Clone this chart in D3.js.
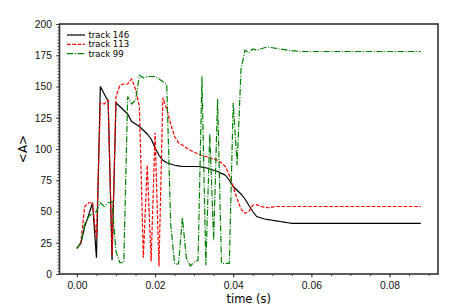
<!DOCTYPE html>
<html>
<head>
<meta charset="utf-8">
<script src="https://cdn.jsdelivr.net/npm/d3@7"></script>
<style>
  body { margin: 0; background: #fff; }
  svg { font-family: "DejaVu Sans", sans-serif; }
</style>
</head>
<body>
<svg id="chart" width="476" height="308"></svg>
<script>

// ===========================//
// DATA
// ===========================//

// sample times, in ms
var timeMs = [0,1,2,3,4,5,6,7,8,9,10,11,12,13,14,15,16,17,18,19,20,21,22,23,24,25,26,27,28,29,
  30,31,32,33,34,35,36,37,38,39,40,41,42,43,44,45,46,47,48,49,50,51,52,53,54,55,56,57,58,59,
  60,61,62,63,64,65,66,67,68,69,70,71,72,73,74,75,76,77,78,79,80,81,82,83,84,85,86,87,88]

var track146 = [20.5,24.5,38,47,57,13,150,144,138,11,137,134,131,128,122,120,118,115,112,108,
  101,95,91,89,88,87,86.5,86,86,86,86,86,85.5,85,84,83,82,80.5,79,75,
  70,67,64,60,55,50,46,45,44,43.5,43,42.5,42,41.5,41,40.5,40.5,40.5,40.5,40.5,
  40.5,40.5,40.5,40.5,40.5,40.5,40.5,40.5,40.5,40.5,40.5,40.5,40.5,40.5,40.5,40.5,40.5,40.5,40.5,40.5,
  40.5,40.5,40.5,40.5,40.5,40.5,40.5,40.5,40.5]

var track113 = [20.5,25,54,57,57,28,137,136,139,15,142,151,152,152,156,148,134,13,87,10,
  113,6,141,132,120,110,105,103,101,99,97.5,96,95,94,93,92,91,89,86,79,
  70,60,52,48.5,50,55,55.5,54,53.5,53,53.5,54,54,54,54,54,54,54,54,54,
  54,54,54,54,54,54,54,54,54,54,54,54,54,54,54,54,54,54,54,54,
  54,54,54,54,54,54,54,54,54]

var track99 = [20.5,25,40,46,48.5,50,57,54,57,58,18,9,9,142,136,139,159,157,158,158,
  158,156,154,151,40,8,8,45,13,6.5,9.5,11,158,7,112,27,140,8.5,8.5,8.5,
  137,87,164,179,177,180,179,180,181,181.5,181,180.5,180,179.5,179,178.5,178.5,178,178,178,
  178,178,178,178,178,178,178,178,178,178,178,178,178,178,178,178,178,178,178,178,
  178,178,178,178,178,178,178,178,178]

var seriesNames = ["track 146", "track 113", "track 99"]
var seriesValues = [track146, track113, track99]

var xTicks = [0, 0.02, 0.04, 0.06, 0.08]
var yTicks = [0, 25, 50, 75, 100, 125, 150, 175, 200]


// ===========================//
// SCALES
// ===========================//

var svg = d3.select("#chart")
// plot box (note: "top" is reserved on window, so prefixed names)
var plotL = 59.5, plotR = 438, plotT = 24, plotB = 274

var x = d3.scaleLinear().domain([-0.00445, 0.0924]).range([plotL, plotR])
var y = d3.scaleLinear().domain([0, 200]).range([plotB, plotT])

var color = d3.scaleOrdinal().domain(seriesNames).range(["#000000", "#ff0000", "#008000"])
var dash = d3.scaleOrdinal().domain(seriesNames).range(["none", "3.7,1.6", "6.4,1.6,1,1.6"])


// ===========================//
// AXES
// ===========================//

// minor ticks first
svg.append("g")
  .attr("transform", "translate(0," + plotB + ")")
  .call(d3.axisBottom(x).tickValues(d3.range(0, 0.0921, 0.005)).tickSize(2).tickFormat(""))
svg.append("g")
  .attr("transform", "translate(" + plotL + ",0)")
  .call(d3.axisLeft(y).tickValues(d3.range(0, 200.1, 2.5)).tickSize(2).tickFormat(""))

// major ticks + labels
svg.append("g")
  .attr("transform", "translate(0," + plotB + ")")
  .call(d3.axisBottom(x).tickValues(xTicks).tickSize(3.5).tickPadding(4).tickFormat(d3.format(".2f")))
svg.append("g")
  .attr("transform", "translate(" + plotL + ",0)")
  .call(d3.axisLeft(y).tickValues(yTicks).tickSize(3.5).tickPadding(4).tickFormat(d3.format("d")))

svg.selectAll(".domain").remove()
svg.selectAll(".tick line").attr("stroke", "#222").attr("stroke-width", 0.8)
svg.selectAll(".tick text").attr("fill", "#111").style("font-size", "10.3px")


// ===========================//
// LINES
// ===========================//

var line = d3.line()
  .x(function(d){ return x(d[0] / 1000) })
  .y(function(d){ return y(d[1]) })

var plot = svg.append("g")
seriesNames.forEach(function(name, i){
  var pts = timeMs.map(function(t, j){ return [t, seriesValues[i][j]] })
  plot.append("path")
    .datum(pts)
    .attr("d", line)
    .attr("fill", "none")
    .attr("stroke", color(name))
    .attr("stroke-width", 1.2)
    .attr("stroke-dasharray", dash(name))
})

// frame
svg.append("rect")
  .attr("x", plotL).attr("y", plotT)
  .attr("width", plotR - plotL).attr("height", plotB - plotT)
  .attr("fill", "none")
  .attr("stroke", "#333")
  .attr("stroke-width", 1.6)


// ===========================//
// LABELS + LEGEND
// ===========================//

svg.append("text")
  .attr("x", (plotL + plotR) / 2).attr("y", 303)
  .attr("text-anchor", "middle")
  .style("font-size", "11.5px")
  .text("time (s)")

svg.append("text")
  .attr("transform", "translate(27," + (plotT + plotB) / 2 + ") rotate(-90)")
  .attr("text-anchor", "middle")
  .style("font-size", "12px")
  .text("<A>")

var legend = svg.append("g")
seriesNames.forEach(function(name, i){
  var ly = 35 + i * 9.3
  legend.append("line")
    .attr("x1", 67).attr("x2", 85)
    .attr("y1", ly).attr("y2", ly)
    .attr("stroke", color(name))
    .attr("stroke-width", 1.2)
    .attr("stroke-dasharray", dash(name))
  legend.append("text")
    .attr("x", 88.5).attr("y", ly + 3)
    .style("font-size", "8.5px")
    .text(name)
})

</script>
</body>
</html>
